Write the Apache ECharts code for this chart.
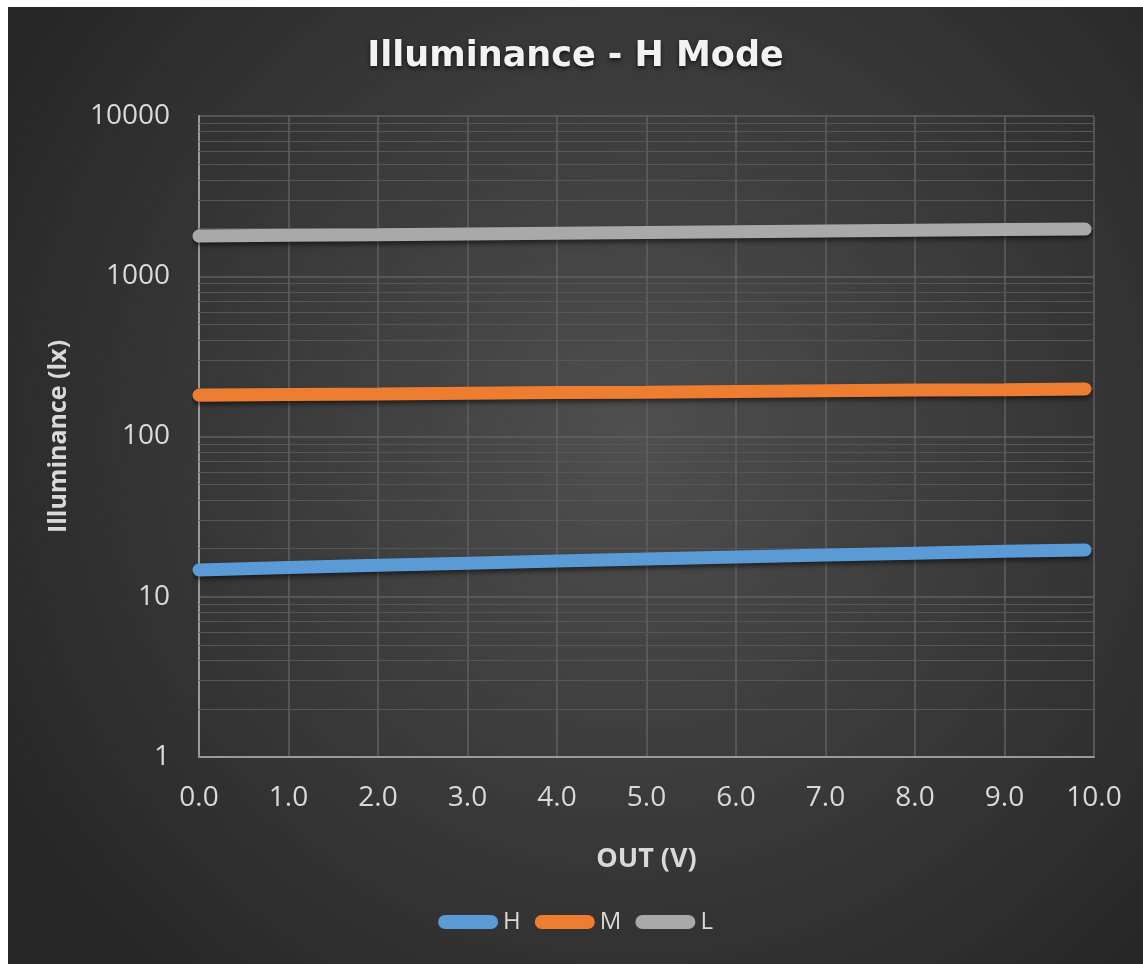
<!DOCTYPE html>
<html>
<head>
<meta charset="utf-8">
<title>Illuminance - H Mode</title>
<script src="https://cdn.jsdelivr.net/npm/echarts@6/dist/echarts.min.js"></script>
<style>
  html, body { margin: 0; padding: 0; background: #fff; }
  #chart { position: absolute; left: 8px; top: 7px; width: 1135px; height: 957px; }
</style>
</head>
<body>
<div id="chart"></div>
<script>
// OUT (V) sample points
const outV = [0, 1, 2, 3, 4, 5, 6, 7, 8, 9, 9.9]
// illuminance (lx)
const hMode = [14.7, 15.2, 15.7, 16.2, 16.7, 17.2, 17.7, 18.2, 18.7, 19.2, 19.6]
const mMode = [181, 183, 184, 186, 188, 189, 191, 193, 195, 196, 198]
const lMode = [1780, 1800, 1815, 1835, 1855, 1875, 1895, 1915, 1935, 1955, 1970]
// minor gridlines of the log axis
const minorTicks = [2, 3, 4, 5, 6, 7, 8, 9, 20, 30, 40, 50, 60, 70, 80, 90,
  200, 300, 400, 500, 600, 700, 800, 900, 2000, 3000, 4000, 5000, 6000, 7000, 8000, 9000]

const font = 'Open Sans'
const pill = 'path://M7,0L53,0A7,7,0,0,1,53,14L7,14A7,7,0,0,1,7,0Z'

function pairs (ys) {
  return outV.map((x, i) => [x, ys[i]])
}

function lineSeries (name, ys, color) {
  return {
    name: name,
    type: 'line',
    data: pairs(ys),
    showSymbol: false,
    symbol: 'none',
    z: 5,
    itemStyle: {color: color},
    lineStyle: {
      color: color,
      width: 13,
      cap: 'round',
      shadowColor: 'rgba(0,0,0,0.55)',
      shadowBlur: 5,
      shadowOffsetY: 3
    }
  }
}

const chart = echarts.init(document.getElementById('chart'))
chart.setOption({
  animation: false,
  backgroundColor: {
    type: 'radial',
    x: 0.55,
    y: 0.45,
    r: 0.75,
    colorStops: [
      {offset: 0, color: '#4f4f4f'},
      {offset: 1, color: '#272727'}
    ]
  },
  title: {
    text: 'Illuminance - H Mode',
    left: 'center',
    top: 27,
    textStyle: {
      fontFamily: 'DejaVu Sans',
      fontSize: 35,
      fontWeight: 'bold',
      color: '#f2f2f2',
      textShadowColor: 'rgba(0,0,0,0.7)',
      textShadowBlur: 4,
      textShadowOffsetY: 2
    }
  },
  legend: {
    data: ['H', 'M', 'L'],
    bottom: 25,
    left: 'center',
    icon: pill,
    itemWidth: 60,
    itemHeight: 14,
    itemGap: 14,
    textStyle: {
      fontFamily: font,
      fontSize: 24,
      color: '#d9d9d9'
    }
  },
  grid: {
    left: 191,
    top: 109,
    right: 49,
    bottom: 207
  },
  xAxis: {
    type: 'value',
    min: 0,
    max: 10,
    interval: 1,
    name: 'OUT (V)',
    nameLocation: 'middle',
    nameGap: 89,
    nameTextStyle: {
      fontFamily: font,
      fontSize: 27,
      fontWeight: 'bold',
      color: '#d9d9d9'
    },
    axisLine: {lineStyle: {color: '#9a9a9a', width: 2}},
    axisTick: {show: false},
    axisLabel: {
      margin: 27,
      fontFamily: font,
      fontSize: 28,
      color: '#d9d9d9',
      formatter: v => v.toFixed(1)
    },
    splitLine: {show: true, lineStyle: {color: '#606060', width: 1.5}}
  },
  yAxis: {
    type: 'log',
    logBase: 10,
    min: 1,
    max: 10000,
    name: 'Illuminance (lx)',
    nameLocation: 'middle',
    nameRotate: 90,
    nameGap: 128,
    nameTextStyle: {
      fontFamily: font,
      fontSize: 25,
      fontWeight: 'bold',
      color: '#d9d9d9'
    },
    axisLine: {show: true, lineStyle: {color: '#9a9a9a', width: 2}},
    axisTick: {show: false},
    axisLabel: {
      margin: 29,
      fontFamily: font,
      fontSize: 28,
      color: '#d9d9d9',
      formatter: v => String(v)
    },
    splitLine: {show: true, lineStyle: {color: '#606060', width: 1.5}}
  },
  series: [
    {
      name: 'grid',
      type: 'line',
      data: [],
      z: 1,
      silent: true,
      markLine: {
        silent: true,
        symbol: 'none',
        label: {show: false},
        lineStyle: {color: '#575757', width: 1.2, type: 'solid'},
        data: minorTicks.map(v => ({yAxis: v}))
      }
    },
    lineSeries('H', hMode, '#5b9bd5'),
    lineSeries('M', mMode, '#ed7d31'),
    lineSeries('L', lMode, '#a9a9a9')
  ]
})
</script>
</body>
</html>
